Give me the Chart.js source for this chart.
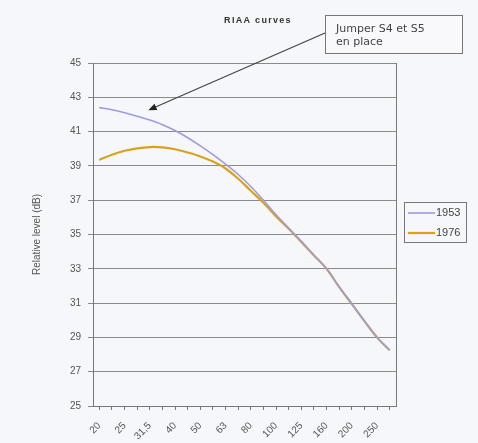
<!DOCTYPE html>
<html>
<head>
<meta charset="utf-8">
<title>RIAA curves</title>
<script src="https://cdn.jsdelivr.net/npm/chart.js@4.4.1/dist/chart.umd.min.js"></script>
<style>
  html, body { margin: 0; background: #f6f7fb; }
  canvas { display: block; }
</style>
</head>
<body>
<canvas id="riaa" width="478" height="443"></canvas>
<script>
/* ======================================================
   DATA
====================================================== */

const frequencies = ['20', '22,4', '25', '28', '31,5', '35,5', '40', '45', '50', '56', '63', '71',
                     '80', '90', '100', '112', '125', '140', '160', '180', '200', '224', '250', '280'];

const curve1953 = [42.4, 42.27, 42.1, 41.9, 41.67, 41.4, 41.06, 40.64, 40.17, 39.66, 39.1, 38.5,
                   37.8, 37.0, 36.15, 35.38, 34.6, 33.8, 33.0, 31.95, 30.95, 29.95, 29.0, 28.25];

const curve1976 = [39.35, 39.65, 39.88, 40.02, 40.1, 40.08, 39.97, 39.78, 39.55, 39.25, 38.85, 38.25,
                   37.55, 36.85, 36.05, 35.33, 34.57, 33.78, 33.0, 31.93, 30.95, 29.95, 29.0, 28.25];

const seriesLabels = ['1953', '1976'];
const seriesColors = ['#9d9ce2', '#d8a31c'];

const yMin = 25;
const yMax = 45;
const yStep = 2;

const noteLines = ['Jumper S4 et S5', 'en place'];
const noteTarget = { index: 4, value: 42.25 };

/* ======================================================
   DECORATIONS (title, note, legend, right border)
====================================================== */

const decorPlugin = {
  id: 'decor',
  afterDraw(chart) {
    const { ctx, chartArea, scales } = chart;
    ctx.save();

    // right border of plot
    ctx.strokeStyle = '#7a7a7a';
    ctx.lineWidth = 1;
    ctx.beginPath();
    ctx.moveTo(chartArea.right + 0.5, chartArea.top);
    ctx.lineTo(chartArea.right + 0.5, chartArea.bottom);
    ctx.stroke();

    // title
    ctx.fillStyle = '#333';
    ctx.font = 'bold 9px "Liberation Sans", Arial, sans-serif';
    ctx.letterSpacing = '1.3px';
    ctx.textAlign = 'center';
    ctx.textBaseline = 'middle';
    ctx.fillText('RIAA curves', 258, 21);
    ctx.letterSpacing = '0px';

    // note box
    ctx.fillStyle = '#f9f9fb';
    ctx.fillRect(325.5, 15.5, 137, 38);
    ctx.strokeStyle = '#777';
    ctx.strokeRect(325.5, 15.5, 137, 38);
    ctx.fillStyle = '#444';
    ctx.font = '11px "DejaVu Sans", sans-serif';
    ctx.textAlign = 'left';
    ctx.textBaseline = 'alphabetic';
    ctx.fillText(noteLines[0], 336, 32);
    ctx.fillText(noteLines[1], 336, 45);

    // arrow
    const x0 = 325, y0 = 33;
    const x1 = scales.x.getPixelForValue(noteTarget.index) - 1.5;
    const y1 = scales.y.getPixelForValue(noteTarget.value);
    const ang = Math.atan2(y1 - y0, x1 - x0);
    ctx.strokeStyle = '#444';
    ctx.lineWidth = 1.2;
    ctx.beginPath();
    ctx.moveTo(x0, y0);
    ctx.lineTo(x1 - Math.cos(ang) * 6, y1 - Math.sin(ang) * 6);
    ctx.stroke();
    ctx.fillStyle = '#222';
    ctx.beginPath();
    ctx.moveTo(x1, y1);
    ctx.lineTo(x1 - Math.cos(ang - 0.4) * 9, y1 - Math.sin(ang - 0.4) * 9);
    ctx.lineTo(x1 - Math.cos(ang + 0.4) * 9, y1 - Math.sin(ang + 0.4) * 9);
    ctx.closePath();
    ctx.fill();

    // legend
    ctx.lineWidth = 1;
    ctx.strokeStyle = '#777';
    ctx.strokeRect(404.5, 202.5, 62, 40);
    ctx.font = '11px "Liberation Sans", Arial, sans-serif';
    ctx.textBaseline = 'middle';
    chart.data.datasets.forEach((ds, i) => {
      const y = 213 + i * 20;
      ctx.strokeStyle = ds.borderColor;
      ctx.lineWidth = ds.borderWidth;
      ctx.beginPath();
      ctx.moveTo(408, y);
      ctx.lineTo(435, y);
      ctx.stroke();
      ctx.fillStyle = '#444';
      ctx.fillText(ds.label, 436, y);
    });

    ctx.restore();
  }
};

/* ======================================================
   CHART
====================================================== */

new Chart(document.getElementById('riaa'), {
  type: 'line',
  data: {
    labels: frequencies,
    datasets: [
      { label: seriesLabels[0], data: curve1953, borderColor: seriesColors[0], borderWidth: 1.6 },
      { label: seriesLabels[1], data: curve1976, borderColor: seriesColors[1], borderWidth: 2.2 }
    ]
  },
  options: {
    responsive: false,
    animation: false,
    layout: { padding: { top: 63, right: 82, left: 31, bottom: 0 } },
    elements: {
      point: { radius: 0 },
      line: { tension: 0.35, fill: false }
    },
    plugins: {
      legend: { display: false },
      title: { display: false },
      tooltip: { enabled: false }
    },
    scales: {
      x: {
        offset: true,
        afterFit(scale) { scale.height = 37; },
        grid: {
          drawOnChartArea: false,
          drawTicks: true,
          tickLength: 4,
          color: '#777'
        },
        border: { color: '#777' },
        ticks: {
          autoSkip: false,
          minRotation: 45,
          maxRotation: 45,
          padding: 10,
          color: '#555',
          font: { family: '"Liberation Sans", Arial, sans-serif', size: 10 },
          callback: (v, i) => (i % 2 === 0 ? frequencies[i] : '')
        }
      },
      y: {
        min: yMin,
        max: yMax,
        afterFit(scale) { scale.width = 62; },
        grid: { color: '#8a8a8a', tickLength: 5 },
        border: { color: '#777' },
        ticks: {
          stepSize: yStep,
          padding: 7,
          color: '#555',
          font: { family: '"Liberation Sans", Arial, sans-serif', size: 10 }
        },
        title: {
          display: true,
          text: 'Relative level (dB)',
          color: '#555',
          font: { family: '"Liberation Sans", Arial, sans-serif', size: 10 },
          padding: { top: 0, bottom: 0 }
        }
      }
    }
  },
  plugins: [decorPlugin]
});
</script>
</body>
</html>
